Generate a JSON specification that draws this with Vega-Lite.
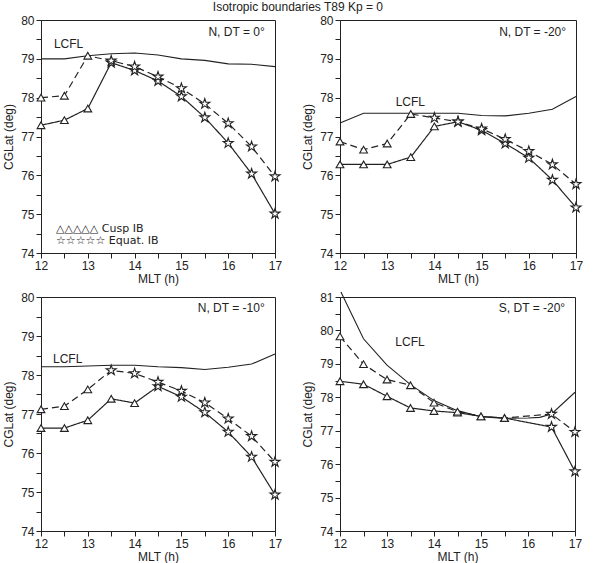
{
  "$schema": "https://vega.github.io/schema/vega-lite/v6.json",
  "background": "white",
  "padding": {"left": 2, "top": 0, "right": 5, "bottom": 0},
  "title": {"text": "Isotropic boundaries T89 Kp = 0", "anchor": "middle", "dx": 5, "fontSize": 12, "fontWeight": "normal", "font": "Liberation Sans", "color": "#222", "offset": 0},
  "columns": 2,
  "bounds": "flush",
  "spacing": {"row": 44, "column": 65},
  "datasets": {
    "lcfl": [
      {"panel": "A", "mlt": 12, "lat": 79.0}, {"panel": "A", "mlt": 12.5, "lat": 79.0}, {"panel": "A", "mlt": 13, "lat": 79.08}, {"panel": "A", "mlt": 13.5, "lat": 79.13}, {"panel": "A", "mlt": 14, "lat": 79.15}, {"panel": "A", "mlt": 14.5, "lat": 79.1}, {"panel": "A", "mlt": 15, "lat": 79.0}, {"panel": "A", "mlt": 15.5, "lat": 78.96}, {"panel": "A", "mlt": 16, "lat": 78.87}, {"panel": "A", "mlt": 16.5, "lat": 78.86}, {"panel": "A", "mlt": 17, "lat": 78.8},
      {"panel": "B", "mlt": 12, "lat": 77.35}, {"panel": "B", "mlt": 12.5, "lat": 77.6}, {"panel": "B", "mlt": 13, "lat": 77.6}, {"panel": "B", "mlt": 13.5, "lat": 77.6}, {"panel": "B", "mlt": 14, "lat": 77.6}, {"panel": "B", "mlt": 14.5, "lat": 77.6}, {"panel": "B", "mlt": 15, "lat": 77.54}, {"panel": "B", "mlt": 15.5, "lat": 77.53}, {"panel": "B", "mlt": 16, "lat": 77.6}, {"panel": "B", "mlt": 16.5, "lat": 77.7}, {"panel": "B", "mlt": 17, "lat": 78.03},
      {"panel": "C", "mlt": 12, "lat": 78.21}, {"panel": "C", "mlt": 12.5, "lat": 78.21}, {"panel": "C", "mlt": 13, "lat": 78.23}, {"panel": "C", "mlt": 13.5, "lat": 78.25}, {"panel": "C", "mlt": 14, "lat": 78.25}, {"panel": "C", "mlt": 14.5, "lat": 78.21}, {"panel": "C", "mlt": 15, "lat": 78.19}, {"panel": "C", "mlt": 15.5, "lat": 78.14}, {"panel": "C", "mlt": 16, "lat": 78.2}, {"panel": "C", "mlt": 16.5, "lat": 78.28}, {"panel": "C", "mlt": 17, "lat": 78.54},
      {"panel": "D", "mlt": 12.02, "lat": 81.15}, {"panel": "D", "mlt": 12.5, "lat": 79.75}, {"panel": "D", "mlt": 13, "lat": 78.96}, {"panel": "D", "mlt": 13.5, "lat": 78.38}, {"panel": "D", "mlt": 14, "lat": 77.9}, {"panel": "D", "mlt": 14.5, "lat": 77.6}, {"panel": "D", "mlt": 15, "lat": 77.42}, {"panel": "D", "mlt": 15.5, "lat": 77.37}, {"panel": "D", "mlt": 16, "lat": 77.38}, {"panel": "D", "mlt": 16.25, "lat": 77.4}, {"panel": "D", "mlt": 16.5, "lat": 77.5}, {"panel": "D", "mlt": 17, "lat": 78.15}
    ],
    "ib": [
      {"panel": "A", "run": "solid", "mlt": 12, "lat": 77.29, "kind": "Cusp IB"},
      {"panel": "A", "run": "solid", "mlt": 12.5, "lat": 77.42, "kind": "Cusp IB"},
      {"panel": "A", "run": "solid", "mlt": 13, "lat": 77.72, "kind": "Cusp IB"},
      {"panel": "A", "run": "solid", "mlt": 13.5, "lat": 78.9, "kind": "Equat. IB"},
      {"panel": "A", "run": "solid", "mlt": 14, "lat": 78.7, "kind": "Equat. IB"},
      {"panel": "A", "run": "solid", "mlt": 14.5, "lat": 78.43, "kind": "Equat. IB"},
      {"panel": "A", "run": "solid", "mlt": 15, "lat": 78.03, "kind": "Equat. IB"},
      {"panel": "A", "run": "solid", "mlt": 15.5, "lat": 77.49, "kind": "Equat. IB"},
      {"panel": "A", "run": "solid", "mlt": 16, "lat": 76.83, "kind": "Equat. IB"},
      {"panel": "A", "run": "solid", "mlt": 16.5, "lat": 76.04, "kind": "Equat. IB"},
      {"panel": "A", "run": "solid", "mlt": 17, "lat": 75.01, "kind": "Equat. IB"},
      {"panel": "A", "run": "dashed", "mlt": 12, "lat": 78.0, "kind": "Cusp IB"},
      {"panel": "A", "run": "dashed", "mlt": 12.5, "lat": 78.05, "kind": "Cusp IB"},
      {"panel": "A", "run": "dashed", "mlt": 13, "lat": 79.08, "kind": "Cusp IB"},
      {"panel": "A", "run": "dashed", "mlt": 13.5, "lat": 78.95, "kind": "Equat. IB"},
      {"panel": "A", "run": "dashed", "mlt": 14, "lat": 78.8, "kind": "Equat. IB"},
      {"panel": "A", "run": "dashed", "mlt": 14.5, "lat": 78.54, "kind": "Equat. IB"},
      {"panel": "A", "run": "dashed", "mlt": 15, "lat": 78.24, "kind": "Equat. IB"},
      {"panel": "A", "run": "dashed", "mlt": 15.5, "lat": 77.84, "kind": "Equat. IB"},
      {"panel": "A", "run": "dashed", "mlt": 16, "lat": 77.34, "kind": "Equat. IB"},
      {"panel": "A", "run": "dashed", "mlt": 16.5, "lat": 76.74, "kind": "Equat. IB"},
      {"panel": "A", "run": "dashed", "mlt": 17, "lat": 75.97, "kind": "Equat. IB"},

      {"panel": "B", "run": "solid", "mlt": 12, "lat": 76.28, "kind": "Cusp IB"},
      {"panel": "B", "run": "solid", "mlt": 12.5, "lat": 76.28, "kind": "Cusp IB"},
      {"panel": "B", "run": "solid", "mlt": 13, "lat": 76.28, "kind": "Cusp IB"},
      {"panel": "B", "run": "solid", "mlt": 13.5, "lat": 76.47, "kind": "Cusp IB"},
      {"panel": "B", "run": "solid", "mlt": 14, "lat": 77.26, "kind": "Cusp IB"},
      {"panel": "B", "run": "solid", "mlt": 14.5, "lat": 77.38, "kind": "Equat. IB"},
      {"panel": "B", "run": "solid", "mlt": 15, "lat": 77.16, "kind": "Equat. IB"},
      {"panel": "B", "run": "solid", "mlt": 15.5, "lat": 76.82, "kind": "Equat. IB"},
      {"panel": "B", "run": "solid", "mlt": 16, "lat": 76.45, "kind": "Equat. IB"},
      {"panel": "B", "run": "solid", "mlt": 16.5, "lat": 75.88, "kind": "Equat. IB"},
      {"panel": "B", "run": "solid", "mlt": 17, "lat": 75.17, "kind": "Equat. IB"},
      {"panel": "B", "run": "dashed", "mlt": 12, "lat": 76.87, "kind": "Cusp IB"},
      {"panel": "B", "run": "dashed", "mlt": 12.5, "lat": 76.66, "kind": "Cusp IB"},
      {"panel": "B", "run": "dashed", "mlt": 13, "lat": 76.82, "kind": "Cusp IB"},
      {"panel": "B", "run": "dashed", "mlt": 13.5, "lat": 77.58, "kind": "Cusp IB"},
      {"panel": "B", "run": "dashed", "mlt": 14, "lat": 77.48, "kind": "Equat. IB"},
      {"panel": "B", "run": "dashed", "mlt": 14.5, "lat": 77.38, "kind": "Equat. IB"},
      {"panel": "B", "run": "dashed", "mlt": 15, "lat": 77.2, "kind": "Equat. IB"},
      {"panel": "B", "run": "dashed", "mlt": 15.5, "lat": 76.93, "kind": "Equat. IB"},
      {"panel": "B", "run": "dashed", "mlt": 16, "lat": 76.62, "kind": "Equat. IB"},
      {"panel": "B", "run": "dashed", "mlt": 16.5, "lat": 76.28, "kind": "Equat. IB"},
      {"panel": "B", "run": "dashed", "mlt": 17, "lat": 75.77, "kind": "Equat. IB"},

      {"panel": "C", "run": "solid", "mlt": 12, "lat": 76.64, "kind": "Cusp IB"},
      {"panel": "C", "run": "solid", "mlt": 12.5, "lat": 76.64, "kind": "Cusp IB"},
      {"panel": "C", "run": "solid", "mlt": 13, "lat": 76.84, "kind": "Cusp IB"},
      {"panel": "C", "run": "solid", "mlt": 13.5, "lat": 77.39, "kind": "Cusp IB"},
      {"panel": "C", "run": "solid", "mlt": 14, "lat": 77.28, "kind": "Cusp IB"},
      {"panel": "C", "run": "solid", "mlt": 14.5, "lat": 77.71, "kind": "Equat. IB"},
      {"panel": "C", "run": "solid", "mlt": 15, "lat": 77.44, "kind": "Equat. IB"},
      {"panel": "C", "run": "solid", "mlt": 15.5, "lat": 77.04, "kind": "Equat. IB"},
      {"panel": "C", "run": "solid", "mlt": 16, "lat": 76.54, "kind": "Equat. IB"},
      {"panel": "C", "run": "solid", "mlt": 16.5, "lat": 75.9, "kind": "Equat. IB"},
      {"panel": "C", "run": "solid", "mlt": 17, "lat": 74.93, "kind": "Equat. IB"},
      {"panel": "C", "run": "dashed", "mlt": 12, "lat": 77.12, "kind": "Cusp IB"},
      {"panel": "C", "run": "dashed", "mlt": 12.5, "lat": 77.2, "kind": "Cusp IB"},
      {"panel": "C", "run": "dashed", "mlt": 13, "lat": 77.63, "kind": "Cusp IB"},
      {"panel": "C", "run": "dashed", "mlt": 13.5, "lat": 78.12, "kind": "Equat. IB"},
      {"panel": "C", "run": "dashed", "mlt": 14, "lat": 78.04, "kind": "Equat. IB"},
      {"panel": "C", "run": "dashed", "mlt": 14.5, "lat": 77.82, "kind": "Equat. IB"},
      {"panel": "C", "run": "dashed", "mlt": 15, "lat": 77.59, "kind": "Equat. IB"},
      {"panel": "C", "run": "dashed", "mlt": 15.5, "lat": 77.29, "kind": "Equat. IB"},
      {"panel": "C", "run": "dashed", "mlt": 16, "lat": 76.88, "kind": "Equat. IB"},
      {"panel": "C", "run": "dashed", "mlt": 16.5, "lat": 76.43, "kind": "Equat. IB"},
      {"panel": "C", "run": "dashed", "mlt": 17, "lat": 75.77, "kind": "Equat. IB"},

      {"panel": "D", "run": "solid", "mlt": 12, "lat": 78.48, "kind": "Cusp IB"},
      {"panel": "D", "run": "solid", "mlt": 12.5, "lat": 78.39, "kind": "Cusp IB"},
      {"panel": "D", "run": "solid", "mlt": 13, "lat": 78.03, "kind": "Cusp IB"},
      {"panel": "D", "run": "solid", "mlt": 13.5, "lat": 77.68, "kind": "Cusp IB"},
      {"panel": "D", "run": "solid", "mlt": 14, "lat": 77.59, "kind": "Cusp IB"},
      {"panel": "D", "run": "solid", "mlt": 14.5, "lat": 77.54, "kind": "Cusp IB"},
      {"panel": "D", "run": "solid", "mlt": 15, "lat": 77.43, "kind": "Cusp IB"},
      {"panel": "D", "run": "solid", "mlt": 15.5, "lat": 77.38, "kind": "Cusp IB"},
      {"panel": "D", "run": "solid", "mlt": 16.5, "lat": 77.11, "kind": "Equat. IB"},
      {"panel": "D", "run": "solid", "mlt": 17, "lat": 75.78, "kind": "Equat. IB"},
      {"panel": "D", "run": "dashed", "mlt": 12, "lat": 79.82, "kind": "Cusp IB"},
      {"panel": "D", "run": "dashed", "mlt": 12.5, "lat": 78.99, "kind": "Cusp IB"},
      {"panel": "D", "run": "dashed", "mlt": 13, "lat": 78.53, "kind": "Cusp IB"},
      {"panel": "D", "run": "dashed", "mlt": 13.5, "lat": 78.36, "kind": "Cusp IB"},
      {"panel": "D", "run": "dashed", "mlt": 14, "lat": 77.84, "kind": "Cusp IB"},
      {"panel": "D", "run": "dashed", "mlt": 14.5, "lat": 77.57, "kind": "Cusp IB"},
      {"panel": "D", "run": "dashed", "mlt": 15, "lat": 77.43, "kind": "Cusp IB"},
      {"panel": "D", "run": "dashed", "mlt": 15.5, "lat": 77.38, "kind": "Cusp IB"},
      {"panel": "D", "run": "dashed", "mlt": 16.5, "lat": 77.5, "kind": "Equat. IB"},
      {"panel": "D", "run": "dashed", "mlt": 17, "lat": 76.96, "kind": "Equat. IB"}
    ],
    "notes": [
      {"panel": "A", "role": "tag", "mlt": 16.78, "lat": 79.7, "text": "N, DT = 0°"},
      {"panel": "A", "role": "lcfl", "mlt": 12.59, "lat": 79.38, "text": "LCFL"},
      {"panel": "A", "role": "key", "mlt": 12.32, "lat": 74.62, "text": "△△△△△ Cusp IB"},
      {"panel": "A", "role": "key", "mlt": 12.32, "lat": 74.3, "text": "☆☆☆☆☆ Equat. IB"},
      {"panel": "B", "role": "tag", "mlt": 16.79, "lat": 79.7, "text": "N, DT = -20°"},
      {"panel": "B", "role": "lcfl", "mlt": 13.49, "lat": 77.9, "text": "LCFL"},
      {"panel": "C", "role": "tag", "mlt": 16.78, "lat": 79.72, "text": "N, DT = -10°"},
      {"panel": "C", "role": "lcfl", "mlt": 12.57, "lat": 78.41, "text": "LCFL"},
      {"panel": "D", "role": "tag", "mlt": 16.79, "lat": 80.68, "text": "S, DT = -20°"},
      {"panel": "D", "role": "lcfl", "mlt": 13.49, "lat": 79.65, "text": "LCFL"}
    ]
  },
  "concat": [
    {
      "width": 234, "height": 233,
      "encoding": {
        "x": {"field": "mlt", "type": "quantitative", "scale": {"domain": [12, 17], "nice": false, "zero": false},
              "axis": {"title": "MLT (h)", "values": [12, 12.5, 13, 13.5, 14, 14.5, 15, 15.5, 16, 16.5, 17], "labelExpr": "datum.value % 1 === 0 ? format(datum.value, 'd') : ''", "encode": {"ticks": {"update": {"y2": {"signal": "datum.value % 1 === 0 ? 5 : 3"}}}}}},
        "y": {"field": "lat", "type": "quantitative", "scale": {"domain": [74, 80], "nice": false, "zero": false},
              "axis": {"title": "CGLat (deg)", "values": [74, 74.5, 75, 75.5, 76, 76.5, 77, 77.5, 78, 78.5, 79, 79.5, 80], "labelExpr": "datum.value % 1 === 0 ? format(datum.value, 'd') : ''", "encode": {"ticks": {"update": {"x2": {"signal": "datum.value % 1 === 0 ? -5 : -3"}}}}}}
      },
      "layer": [
        {"data": {"name": "lcfl"}, "transform": [{"filter": "datum.panel === 'A'"}], "mark": {"type": "line", "color": "#222", "strokeWidth": 1.1}},
        {"data": {"name": "ib"}, "transform": [{"filter": "datum.panel === 'A'"}], "mark": {"type": "line", "color": "#222", "strokeWidth": 1.2},
         "encoding": {"detail": {"field": "run"}, "strokeDash": {"field": "run", "type": "nominal", "scale": {"domain": ["solid", "dashed"], "range": [[1, 0], [7, 4]]}, "legend": null}}},
        {"data": {"name": "ib"}, "transform": [{"filter": "datum.panel === 'A'"}], "mark": {"type": "point", "filled": true, "fill": "white", "stroke": "#222", "strokeWidth": 1.1, "opacity": 1},
         "encoding": {"shape": {"field": "kind", "type": "nominal", "scale": {"domain": ["Cusp IB", "Equat. IB"], "range": ["triangle-up", "M0,-1L0.2245,-0.309L0.951,-0.309L0.363,0.118L0.588,0.809L0,0.382L-0.588,0.809L-0.363,0.118L-0.951,-0.309L-0.2245,-0.309Z"]}, "legend": null},
                      "size": {"field": "kind", "type": "nominal", "scale": {"domain": ["Cusp IB", "Equat. IB"], "range": [60, 110]}, "legend": null}}},
        {"data": {"name": "notes"}, "transform": [{"filter": "datum.panel === 'A' && datum.role === 'tag'"}], "mark": {"type": "text", "align": "right", "baseline": "middle", "font": "Liberation Sans", "fontSize": 12, "color": "#222"}, "encoding": {"text": {"field": "text"}}},
        {"data": {"name": "notes"}, "transform": [{"filter": "datum.panel === 'A' && datum.role === 'lcfl'"}], "mark": {"type": "text", "align": "center", "baseline": "middle", "font": "Liberation Sans", "fontSize": 12, "color": "#222"}, "encoding": {"text": {"field": "text"}}},
        {"data": {"name": "notes"}, "transform": [{"filter": "datum.panel === 'A' && datum.role === 'key'"}], "mark": {"type": "text", "align": "left", "baseline": "middle", "font": "DejaVu Sans", "fontSize": 11, "color": "#222"}, "encoding": {"text": {"field": "text"}}}
      ]
    },
    {
      "width": 236, "height": 233,
      "encoding": {
        "x": {"field": "mlt", "type": "quantitative", "scale": {"domain": [12, 17], "nice": false, "zero": false},
              "axis": {"title": "MLT (h)", "values": [12, 12.5, 13, 13.5, 14, 14.5, 15, 15.5, 16, 16.5, 17], "labelExpr": "datum.value % 1 === 0 ? format(datum.value, 'd') : ''", "encode": {"ticks": {"update": {"y2": {"signal": "datum.value % 1 === 0 ? 5 : 3"}}}}}},
        "y": {"field": "lat", "type": "quantitative", "scale": {"domain": [74, 80], "nice": false, "zero": false},
              "axis": {"title": "CGLat (deg)", "values": [74, 74.5, 75, 75.5, 76, 76.5, 77, 77.5, 78, 78.5, 79, 79.5, 80], "labelExpr": "datum.value % 1 === 0 ? format(datum.value, 'd') : ''", "encode": {"ticks": {"update": {"x2": {"signal": "datum.value % 1 === 0 ? -5 : -3"}}}}}}
      },
      "layer": [
        {"data": {"name": "lcfl"}, "transform": [{"filter": "datum.panel === 'B'"}], "mark": {"type": "line", "color": "#222", "strokeWidth": 1.1}},
        {"data": {"name": "ib"}, "transform": [{"filter": "datum.panel === 'B'"}], "mark": {"type": "line", "color": "#222", "strokeWidth": 1.2},
         "encoding": {"detail": {"field": "run"}, "strokeDash": {"field": "run", "type": "nominal", "scale": {"domain": ["solid", "dashed"], "range": [[1, 0], [7, 4]]}, "legend": null}}},
        {"data": {"name": "ib"}, "transform": [{"filter": "datum.panel === 'B'"}], "mark": {"type": "point", "filled": true, "fill": "white", "stroke": "#222", "strokeWidth": 1.1, "opacity": 1},
         "encoding": {"shape": {"field": "kind", "type": "nominal", "scale": {"domain": ["Cusp IB", "Equat. IB"], "range": ["triangle-up", "M0,-1L0.2245,-0.309L0.951,-0.309L0.363,0.118L0.588,0.809L0,0.382L-0.588,0.809L-0.363,0.118L-0.951,-0.309L-0.2245,-0.309Z"]}, "legend": null},
                      "size": {"field": "kind", "type": "nominal", "scale": {"domain": ["Cusp IB", "Equat. IB"], "range": [60, 110]}, "legend": null}}},
        {"data": {"name": "notes"}, "transform": [{"filter": "datum.panel === 'B' && datum.role === 'tag'"}], "mark": {"type": "text", "align": "right", "baseline": "middle", "font": "Liberation Sans", "fontSize": 12, "color": "#222"}, "encoding": {"text": {"field": "text"}}},
        {"data": {"name": "notes"}, "transform": [{"filter": "datum.panel === 'B' && datum.role === 'lcfl'"}], "mark": {"type": "text", "align": "center", "baseline": "middle", "font": "Liberation Sans", "fontSize": 12, "color": "#222"}, "encoding": {"text": {"field": "text"}}}
      ]
    },
    {
      "width": 234, "height": 234,
      "encoding": {
        "x": {"field": "mlt", "type": "quantitative", "scale": {"domain": [12, 17], "nice": false, "zero": false},
              "axis": {"title": "MLT (h)", "values": [12, 12.5, 13, 13.5, 14, 14.5, 15, 15.5, 16, 16.5, 17], "labelExpr": "datum.value % 1 === 0 ? format(datum.value, 'd') : ''", "encode": {"ticks": {"update": {"y2": {"signal": "datum.value % 1 === 0 ? 5 : 3"}}}}}},
        "y": {"field": "lat", "type": "quantitative", "scale": {"domain": [74, 80], "nice": false, "zero": false},
              "axis": {"title": "CGLat (deg)", "values": [74, 74.5, 75, 75.5, 76, 76.5, 77, 77.5, 78, 78.5, 79, 79.5, 80], "labelExpr": "datum.value % 1 === 0 ? format(datum.value, 'd') : ''", "encode": {"ticks": {"update": {"x2": {"signal": "datum.value % 1 === 0 ? -5 : -3"}}}}}}
      },
      "layer": [
        {"data": {"name": "lcfl"}, "transform": [{"filter": "datum.panel === 'C'"}], "mark": {"type": "line", "color": "#222", "strokeWidth": 1.1}},
        {"data": {"name": "ib"}, "transform": [{"filter": "datum.panel === 'C'"}], "mark": {"type": "line", "color": "#222", "strokeWidth": 1.2},
         "encoding": {"detail": {"field": "run"}, "strokeDash": {"field": "run", "type": "nominal", "scale": {"domain": ["solid", "dashed"], "range": [[1, 0], [7, 4]]}, "legend": null}}},
        {"data": {"name": "ib"}, "transform": [{"filter": "datum.panel === 'C'"}], "mark": {"type": "point", "filled": true, "fill": "white", "stroke": "#222", "strokeWidth": 1.1, "opacity": 1},
         "encoding": {"shape": {"field": "kind", "type": "nominal", "scale": {"domain": ["Cusp IB", "Equat. IB"], "range": ["triangle-up", "M0,-1L0.2245,-0.309L0.951,-0.309L0.363,0.118L0.588,0.809L0,0.382L-0.588,0.809L-0.363,0.118L-0.951,-0.309L-0.2245,-0.309Z"]}, "legend": null},
                      "size": {"field": "kind", "type": "nominal", "scale": {"domain": ["Cusp IB", "Equat. IB"], "range": [60, 110]}, "legend": null}}},
        {"data": {"name": "notes"}, "transform": [{"filter": "datum.panel === 'C' && datum.role === 'tag'"}], "mark": {"type": "text", "align": "right", "baseline": "middle", "font": "Liberation Sans", "fontSize": 12, "color": "#222"}, "encoding": {"text": {"field": "text"}}},
        {"data": {"name": "notes"}, "transform": [{"filter": "datum.panel === 'C' && datum.role === 'lcfl'"}], "mark": {"type": "text", "align": "center", "baseline": "middle", "font": "Liberation Sans", "fontSize": 12, "color": "#222"}, "encoding": {"text": {"field": "text"}}}
      ]
    },
    {
      "width": 235, "height": 234,
      "encoding": {
        "x": {"field": "mlt", "type": "quantitative", "scale": {"domain": [12, 17], "nice": false, "zero": false},
              "axis": {"title": "MLT (h)", "values": [12, 12.5, 13, 13.5, 14, 14.5, 15, 15.5, 16, 16.5, 17], "labelExpr": "datum.value % 1 === 0 ? format(datum.value, 'd') : ''", "encode": {"ticks": {"update": {"y2": {"signal": "datum.value % 1 === 0 ? 5 : 3"}}}}}},
        "y": {"field": "lat", "type": "quantitative", "scale": {"domain": [74, 81], "nice": false, "zero": false},
              "axis": {"title": "CGLat (deg)", "values": [74, 74.5, 75, 75.5, 76, 76.5, 77, 77.5, 78, 78.5, 79, 79.5, 80, 80.5, 81], "labelExpr": "datum.value % 1 === 0 ? format(datum.value, 'd') : ''", "encode": {"ticks": {"update": {"x2": {"signal": "datum.value % 1 === 0 ? -5 : -3"}}}}}}
      },
      "layer": [
        {"data": {"name": "lcfl"}, "transform": [{"filter": "datum.panel === 'D'"}], "mark": {"type": "line", "color": "#222", "strokeWidth": 1.1}},
        {"data": {"name": "ib"}, "transform": [{"filter": "datum.panel === 'D'"}], "mark": {"type": "line", "color": "#222", "strokeWidth": 1.2},
         "encoding": {"detail": {"field": "run"}, "strokeDash": {"field": "run", "type": "nominal", "scale": {"domain": ["solid", "dashed"], "range": [[1, 0], [7, 4]]}, "legend": null}}},
        {"data": {"name": "ib"}, "transform": [{"filter": "datum.panel === 'D'"}], "mark": {"type": "point", "filled": true, "fill": "white", "stroke": "#222", "strokeWidth": 1.1, "opacity": 1},
         "encoding": {"shape": {"field": "kind", "type": "nominal", "scale": {"domain": ["Cusp IB", "Equat. IB"], "range": ["triangle-up", "M0,-1L0.2245,-0.309L0.951,-0.309L0.363,0.118L0.588,0.809L0,0.382L-0.588,0.809L-0.363,0.118L-0.951,-0.309L-0.2245,-0.309Z"]}, "legend": null},
                      "size": {"field": "kind", "type": "nominal", "scale": {"domain": ["Cusp IB", "Equat. IB"], "range": [60, 110]}, "legend": null}}},
        {"data": {"name": "notes"}, "transform": [{"filter": "datum.panel === 'D' && datum.role === 'tag'"}], "mark": {"type": "text", "align": "right", "baseline": "middle", "font": "Liberation Sans", "fontSize": 12, "color": "#222"}, "encoding": {"text": {"field": "text"}}},
        {"data": {"name": "notes"}, "transform": [{"filter": "datum.panel === 'D' && datum.role === 'lcfl'"}], "mark": {"type": "text", "align": "center", "baseline": "middle", "font": "Liberation Sans", "fontSize": 12, "color": "#222"}, "encoding": {"text": {"field": "text"}}}
      ]
    }
  ],
  "config": {
    "view": {"stroke": "#222", "strokeWidth": 1},
    "axis": {"domainColor": "#222", "tickColor": "#222", "labelColor": "#222", "titleColor": "#222", "labelFont": "Liberation Sans", "titleFont": "Liberation Sans", "labelFontSize": 12, "titleFontSize": 12, "titleFontWeight": "normal", "grid": false, "tickSize": 5, "labelPadding": 2, "labelFlush": false, "labelOverlap": false},
    "axisX": {"titlePadding": 2},
    "axisY": {"titlePadding": 5}
  }
}
